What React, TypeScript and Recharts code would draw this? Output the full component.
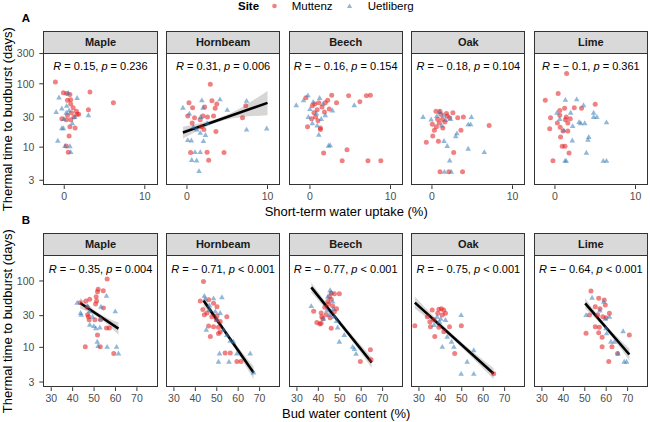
import { Area, ComposedChart, Line, Scatter, XAxis, YAxis } from 'recharts';

type Pt = [number, number];

const species = ['Maple', 'Hornbeam', 'Beech', 'Oak', 'Lime'];

// correlation labels
const rA = ['0.15', '0.31', '\u2212 0.16', '\u2212 0.18', '\u2212 0.1'];
const pA = ['= 0.236', '= 0.006', '= 0.154', '= 0.104', '= 0.361'];
const rB = ['\u2212 0.35', '\u2212 0.71', '\u2212 0.77', '\u2212 0.75', '\u2212 0.64'];
const pB = ['= 0.004', '< 0.001', '< 0.001', '< 0.001', '< 0.001'];

const ticksA = [0, 10];
const ticksB = [30, 40, 50, 60, 70];
const yTicksA = [3, 10, 30, 100, 300];
const yTicksB = [3, 10, 30, 100];

// A: short-term water uptake (%) vs thermal time
const aMapleMut: Pt[] = [[-1.1, 107], [-0.1, 72], [0.3, 70], [0.7, 68], [3.2, 74], [3.0, 39], [6.1, 50], [0.4, 55], [0.8, 56], [0.8, 48], [1.1, 42], [1.5, 37], [1.6, 33], [1.8, 33], [0.4, 32], [-0.3, 28], [0.8, 27], [0.25, 27], [0.7, 21], [1.35, 20], [0.6, 15], [0.25, 10.4], [0.5, 8.3], [1.2, 30], [0.9, 35]];
const aMapleUet: Pt[] = [[-0.65, 61], [0.5, 72], [3.0, 32], [1.6, 60], [-0.3, 41], [-1.0, 36], [0.25, 35], [-0.05, 28], [1.0, 24], [-0.3, 20], [-0.1, 20], [-0.8, 12.7], [0.1, 10.5], [0.7, 10.4], [0.8, 8.4], [0.3, 45], [0.6, 38], [1.3, 30]];
const aHornbeamMut: Pt[] = [[2.9, 98], [0.25, 50], [0.7, 42], [2.2, 43], [3.1, 54], [3.7, 48], [3.5, 41], [0.1, 31], [0.95, 29], [2.0, 31], [2.55, 30], [3.3, 31], [1.65, 27], [0.65, 24], [1.8, 21], [2.1, 19], [3.6, 17.6], [7.3, 45], [6.9, 29], [0.45, 8.2], [2.5, 8.3], [4.6, 8.2], [2.7, 6.2]];
const aHornbeamUet: Pt[] = [[-0.5, 42], [1.85, 55], [4.1, 57], [7.4, 54], [5.0, 39], [2.0, 42], [0.3, 34], [1.7, 30], [0.8, 21], [1.2, 19], [1.65, 16.9], [2.3, 15.6], [0.55, 12.8], [2.05, 12.5], [7.4, 19], [9.9, 19.8], [1.0, 8.4], [1.65, 8.4], [1.2, 6.2], [0.6, 6.3], [1.5, 4.2], [0.1, 13], [2.5, 24]];
const aBeechMut: Pt[] = [[2.7, 66], [1.9, 50], [3.3, 50], [4.8, 65], [6.2, 52], [7.0, 65], [7.5, 66], [4.6, 9.1], [4.0, 6.1], [7.2, 6.1], [8.8, 6.1], [1.3, 20], [-0.5, 60], [1.1, 50], [-0.3, 21], [1.3, 19], [1.7, 8.1], [0.7, 30], [0.9, 39], [1.5, 43], [0.3, 45], [2.2, 55], [0.5, 35], [1.0, 26], [0.2, 28], [1.8, 36], [2.4, 40], [0.6, 48]];
const aBeechUet: Pt[] = [[5.5, 46], [2.5, 10.8], [-1.7, 46], [-0.25, 66], [0.4, 52], [0.9, 22], [1.1, 15.8], [2.3, 10.6], [1.4, 28], [1.9, 32], [-0.8, 55], [0.0, 40], [0.8, 34], [1.6, 48], [2.8, 38], [0.3, 24], [1.2, 60], [-0.2, 30]];
const aOakMut: Pt[] = [[0.5, 37], [1.0, 37], [1.8, 34], [2.6, 35], [1.9, 31], [2.2, 29], [0.7, 27.5], [1.3, 27.5], [0.05, 23], [0.55, 21], [1.35, 20], [3.2, 29], [3.9, 30], [7.1, 22], [3.6, 18.5], [0.1, 15], [-0.7, 12], [0.8, 12.4], [2.7, 8.2], [1.0, 4.1], [2.1, 4.1], [3.8, 4.1], [0.3, 18.5], [1.6, 25], [1.1, 33], [0.9, 24]];
const aOakUet: Pt[] = [[-1.1, 30], [-0.1, 27.5], [0.6, 31], [1.4, 32], [2.3, 28], [4.9, 30], [4.5, 23], [4.8, 23], [3.1, 16.6], [2.95, 14.9], [1.5, 12.6], [1.9, 10.5], [4.5, 9.5], [6.5, 8.4], [2.2, 6.2], [1.55, 4.1], [2.4, 4.1], [0.95, 36], [1.7, 27], [1.2, 22]];
const aLimeMut: Pt[] = [[1.45, 145], [0.4, 70], [-1.2, 55], [1.2, 41], [0.6, 38], [2.4, 42], [3.3, 41], [5.0, 47.5], [-0.55, 29], [0.6, 32], [1.4, 30], [1.9, 28], [1.3, 27], [0.3, 24], [-0.65, 19.6], [0.65, 20.6], [1.0, 18], [1.6, 18], [0.7, 14.5], [0.9, 10.3], [1.25, 10.3], [1.75, 8.1], [-0.25, 6.1], [1.6, 24]];
const aLimeUet: Pt[] = [[1.3, 56], [2.7, 57], [3.55, 46], [0.25, 35], [1.95, 35], [4.8, 35], [4.8, 30], [5.2, 30], [6.4, 24.7], [0.6, 28], [3.0, 25], [3.2, 24], [3.7, 24], [2.2, 21.6], [1.1, 18.5], [4.2, 14.5], [4.1, 13.1], [2.15, 12.8], [1.25, 6.1], [1.4, 6.1], [6.0, 6.1], [6.4, 6.1], [3.9, 8.2]];

// B: bud water content (%) vs thermal time
const bMapleMut: Pt[] = [[56.1, 107], [51.9, 75], [51.6, 69], [54.3, 71], [48.0, 53], [51.2, 50], [50.7, 45], [54.4, 39], [43.5, 47], [46.2, 50], [47.0, 31], [47.7, 26], [50.4, 26], [53.0, 26], [55.8, 19.5], [57.1, 19.5], [47.4, 29], [51.6, 15.4], [52.9, 10.2], [45.9, 10.2], [59.2, 8.1], [46.8, 40], [51.0, 58]];
const bMapleUet: Pt[] = [[43.7, 33], [47.9, 35], [49.3, 29], [53.0, 27], [50.8, 19.5], [49.9, 21], [52.7, 20], [55.8, 60], [59.9, 35], [47.0, 42], [42.1, 47], [44.0, 31], [48.0, 22], [51.9, 10.5], [56.1, 10.2], [60.5, 10.2], [61.4, 8.1], [51.5, 12.2], [53.2, 41]];
const bHornbeamMut: Pt[] = [[43.8, 98], [42.3, 50], [46.2, 52], [48.5, 46], [50.1, 41], [43.5, 37], [45.4, 33], [44.2, 31], [47.7, 29], [50.1, 30], [54.7, 29], [46.2, 21], [48.5, 20.5], [50.8, 20], [51.6, 17], [47.0, 14.5], [53.9, 8.2], [56.3, 8.2], [59.4, 6.1], [61.3, 6.1], [50.8, 16.2], [49.8, 26], [51.6, 24.5]];
const bHornbeamUet: Pt[] = [[44.2, 60], [44.7, 54], [48.5, 55], [52.4, 57], [46.5, 37], [49.3, 35], [51.6, 33], [45.1, 18.5], [53.2, 18.5], [54.7, 15.4], [56.3, 12.6], [57.8, 12.2], [51.3, 8.1], [59.4, 8.1], [65.6, 8.1], [50.8, 6.1], [55.7, 6.1], [67.2, 4.2], [46.6, 43], [50.1, 26]];
const bBeechMut: Pt[] = [[46.0, 65], [47.5, 64], [49.8, 64], [45.2, 58], [46.0, 53], [44.4, 49], [46.7, 42], [47.5, 34.5], [43.6, 31], [42.1, 27], [41.3, 23], [46.0, 19.4], [64.3, 9.2], [64.6, 6.5], [59.6, 6.1], [41.3, 33], [39.3, 23.6], [40.7, 22.5], [37.8, 35], [41.6, 29], [44.8, 45], [48.5, 38], [45.5, 28], [43.0, 40]];
const bBeechUet: Pt[] = [[45.5, 73], [46.0, 67], [44.4, 58], [46.7, 49], [45.2, 31], [47.5, 29], [49.0, 20], [52.1, 15.4], [49.8, 12.2], [56.0, 10.2], [56.8, 9.5], [57.6, 8.0], [42.4, 27], [36.7, 42], [47.0, 38], [44.0, 36], [48.5, 25]];
const bOakMut: Pt[] = [[28.1, 21.2], [33.9, 29], [36.2, 36.5], [39.3, 37.4], [40.5, 38], [41.6, 36.5], [38.8, 32.6], [40.9, 30.7], [37.0, 26], [35.1, 24], [35.4, 20.5], [37.4, 14.5], [39.3, 20], [41.6, 17.2], [44.3, 20.5], [49.8, 21.2], [46.7, 8.1], [64.9, 4.0], [42.4, 32.6]];
const bOakUet: Pt[] = [[49.7, 30.7], [42.4, 26], [43.2, 14.5], [45.2, 12.2], [40.9, 10.2], [46.3, 10.2], [52.5, 6.1], [55.6, 9.1], [49.7, 4.0], [55.6, 4.0], [38.5, 29], [39.6, 24.4], [37.0, 21.7], [40.2, 27]];
const bLimeMut: Pt[] = [[52.9, 70.6], [56.5, 54.8], [59.1, 51.7], [59.6, 43.4], [54.9, 41], [57.1, 38], [52.2, 30.7], [56.0, 30.7], [58.4, 29], [61.5, 32.6], [54.9, 20.5], [56.8, 20], [56.5, 16.6], [50.6, 16.3], [58.1, 14.2], [62.7, 10.2], [58.1, 10.2], [61.2, 6.1], [65.3, 8.1], [70.8, 15.4], [59.9, 28]];
const bLimeUet: Pt[] = [[53.4, 56], [61.5, 29], [59.6, 27], [50.6, 30.7], [59.9, 19.4], [60.2, 16.3], [62.2, 12.2], [63.9, 12.2], [67.9, 17.6], [65.5, 8.1], [68.4, 6.1], [69.5, 6.1], [58.8, 48.9], [57.0, 36]];

// fitted lines: [x, y] at the ends; bands: [x, lower, upper]
const aHornbeamFit: Pt[] = [[-0.5, 17], [10, 50]];
const aHornbeamBand: [number, number, number][] = [[-0.5, 13.6, 21], [4.75, 26.9, 31.5], [10, 32, 77]];
const bMapleFit: Pt[] = [[43.5, 46.5], [61.4, 19.1]];
const bMapleBand: [number, number, number][] = [[43.5, 38.5, 56], [52.5, 27.5, 32.3], [61.4, 15.5, 23.6]];
const bHornbeamFit: Pt[] = [[43.8, 50.6], [67.2, 4.15]];
const bHornbeamBand: [number, number, number][] = [[43.8, 42, 61], [55.5, 13.3, 15.8], [67.2, 3.3, 5.2]];
const bBeechFit: Pt[] = [[36.7, 80], [64.9, 5.9]];
const bBeechBand: [number, number, number][] = [[36.7, 67, 95], [50.8, 20, 23.6], [64.9, 4.9, 7.1]];
const bOakFit: Pt[] = [[28.1, 47.1], [64.9, 4.0]];
const bOakBand: [number, number, number][] = [[28.1, 38.5, 57.7], [46.5, 12.6, 14.9], [64.9, 3.3, 4.85]];
const bLimeFit: Pt[] = [[50.2, 46], [70.8, 7.8]];
const bLimeBand: [number, number, number][] = [[50.2, 38.5, 55], [60.5, 17.4, 20.6], [70.8, 6.3, 9.6]];

const PANEL_W = 114.4;
const PANEL_H = 132.3;
const STEP = 122.6;
const FIRST_LEFT = 43.3;
const Y_AXIS_W = 43.3;
const RED = '#e41a1c';
const BLUE = '#377eb8';

const pts = (a: Pt[]) => a.map(([x, y]) => ({ x, y }));

const dot = (props: any) => <circle cx={props.cx} cy={props.cy} r={2.5} fill={RED} fillOpacity={0.55} />;
const tri = (props: any) => {
  const { cx, cy } = props;
  const s = 2.8;
  return <path d={`M${cx},${cy - s}L${cx + s},${cy + s * 0.75}L${cx - s},${cy + s * 0.75}Z`} fill={BLUE} fillOpacity={0.55} />;
};

const rows = [
  {
    letter: 'A', letterTop: 13.3, stripTop: 30.7, top: 52.7,
    xDomain: [-2.6, 11.6], xTicks: ticksA, yDomain: [2.5, 306], yTicks: yTicksA,
    xTitle: 'Short-term water uptake (%)', r: rA, p: pA,
    mut: [aMapleMut, aHornbeamMut, aBeechMut, aOakMut, aLimeMut],
    uet: [aMapleUet, aHornbeamUet, aBeechUet, aOakUet, aLimeUet],
    fit: [null, aHornbeamFit, null, null, null],
    band: [null, aHornbeamBand, null, null, null],
  },
  {
    letter: 'B', letterTop: 215.4, stripTop: 232.7, top: 255,
    xDomain: [26.3, 79.7], xTicks: ticksB, yDomain: [2.5, 246], yTicks: yTicksB,
    xTitle: 'Bud water content (%)', r: rB, p: pB,
    mut: [bMapleMut, bHornbeamMut, bBeechMut, bOakMut, bLimeMut],
    uet: [bMapleUet, bHornbeamUet, bBeechUet, bOakUet, bLimeUet],
    fit: [bMapleFit, bHornbeamFit, bBeechFit, bOakFit, bLimeFit],
    band: [bMapleBand, bHornbeamBand, bBeechBand, bOakBand, bLimeBand],
  },
];

function Panel({ row, i }: { row: any; i: number }) {
  const first = i === 0;
  const titled = i === 2;
  const axisW = first ? Y_AXIS_W : 0;
  const xH = titled ? 36 : 20;
  const left = FIRST_LEFT + i * STEP;
  const fit = row.fit[i];
  const band = row.band[i];
  return (
    <>
      <div style={{ position: 'absolute', left: left - axisW, top: row.top }}>
        <ComposedChart width={PANEL_W + axisW} height={PANEL_H + xH} margin={{ top: 0, right: 0, bottom: 0, left: 0 }}>
          <XAxis
            type="number"
            dataKey="x"
            domain={row.xDomain}
            ticks={row.xTicks}
            interval={0}
            allowDataOverflow
            axisLine={false}
            tickSize={3.7}
            tickMargin={4}
            height={xH}
            tick={{ fontSize: 10.5, fill: '#4d4d4d' }}
            tickLine={{ stroke: '#333' }}
            label={titled ? { value: row.xTitle, position: 'insideBottom', offset: 5, fill: '#000', fontSize: 13 } : undefined}
          />
          <YAxis
            type="number"
            dataKey="y"
            scale="log"
            domain={row.yDomain}
            ticks={row.yTicks}
            interval={0}
            allowDataOverflow
            hide={!first}
            width={axisW}
            axisLine={false}
            tickSize={4}
            tickMargin={5}
            tick={{ fontSize: 10.5, fill: '#4d4d4d' }}
            tickLine={{ stroke: '#333' }}
            label={{ value: 'Thermal time to budburst (days)', angle: -90, position: 'insideLeft', offset: 7.5, fill: '#000', fontSize: 13, style: { textAnchor: 'middle' } }}
          />
          <Scatter data={pts(row.mut[i])} shape={dot} isAnimationActive={false} />
          <Scatter data={pts(row.uet[i])} shape={tri} isAnimationActive={false} />
          {band && (
            <Area
              data={band.map(([x, lo, hi]: number[]) => ({ x, band: [lo, hi] }))}
              dataKey="band"
              type="monotone"
              stroke="none"
              fill="#999"
              fillOpacity={0.4}
              isAnimationActive={false}
            />
          )}
          {fit && (
            <Line data={pts(fit)} dataKey="y" stroke="#000" strokeWidth={2.6} dot={false} isAnimationActive={false} />
          )}
        </ComposedChart>
      </div>
      <div
        style={{
          position: 'absolute', left, top: row.stripTop, width: PANEL_W, height: row.top - row.stripTop + 1,
          boxSizing: 'border-box', border: '1px solid #333', background: '#d9d9d9',
          display: 'flex', alignItems: 'center', justifyContent: 'center',
          fontSize: 11, fontWeight: 'bold', lineHeight: '11px', color: '#1a1a1a',
        }}
      >
        {species[i]}
      </div>
      <div
        style={{
          position: 'absolute', left, top: row.top, width: PANEL_W, height: PANEL_H,
          boxSizing: 'border-box', border: '1px solid #333', pointerEvents: 'none',
        }}
      />
      <div
        style={{
          position: 'absolute', left, top: row.top + 8.7, width: PANEL_W, textAlign: 'center',
          fontSize: 11, lineHeight: '11px', whiteSpace: 'nowrap', color: '#000',
        }}
      >
        <i>R</i> = {row.r[i]}, <i>p</i> {row.p[i]}
      </div>
    </>
  );
}

export default function App() {
  return (
    <div
      style={{
        position: 'absolute', left: 0, top: 0, width: 650, height: 422, background: '#fff',
        fontFamily: '"Liberation Sans", Arial, sans-serif', overflow: 'hidden',
      }}
    >
      <style>{'.recharts-surface{overflow:visible}'}</style>
      <div style={{ position: 'absolute', left: 238, top: 0.7, fontSize: 11.5, lineHeight: '11.5px', fontWeight: 'bold' }}>Site</div>
      <svg style={{ position: 'absolute', left: 0, top: 0 }} width={650} height={14}>
        <circle cx={274.5} cy={6} r={2.3} fill={RED} fillOpacity={0.55} />
        <path d="M349.5,3.4L352.1,7.9L346.9,7.9Z" fill={BLUE} fillOpacity={0.55} />
      </svg>
      <div style={{ position: 'absolute', left: 291.7, top: 0.7, fontSize: 11.5, lineHeight: '11.5px' }}>Muttenz</div>
      <div style={{ position: 'absolute', left: 367.7, top: 0.7, fontSize: 11.5, lineHeight: '11.5px' }}>Uetliberg</div>
      {rows.map((row) => (
        <div key={row.letter}>
          <div style={{ position: 'absolute', left: 21.7, top: row.letterTop, fontSize: 11.5, lineHeight: '11.5px', fontWeight: 'bold' }}>
            {row.letter}
          </div>
          {species.map((s, i) => (
            <Panel key={s} row={row} i={i} />
          ))}
        </div>
      ))}
    </div>
  );
}
